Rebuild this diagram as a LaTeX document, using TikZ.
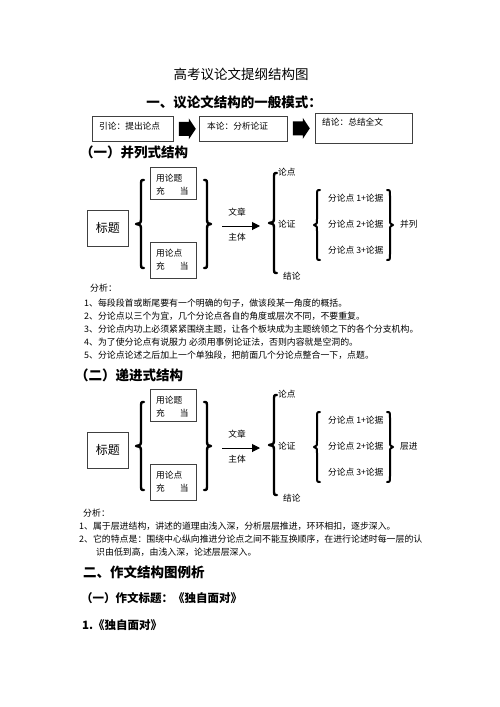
\documentclass[tikz,border=0pt]{standalone}
\usepackage{fontspec}
\setmainfont{Noto Sans CJK SC}
\usetikzlibrary{arrows.meta}
\tikzset{
  box/.style={draw=black!75, line width=0.8pt, inner sep=0pt, anchor=north west},
  txt/.style={inner sep=0pt, font=\fontsize{8.7}{10}\selectfont},
  ana/.style={inner sep=0pt, anchor=west, font=\fontsize{8.9}{10}\selectfont},
  head/.style={inner sep=0pt, font=\bfseries\fontsize{13.5}{15}\selectfont},
  subhead/.style={inner sep=0pt, anchor=west, font=\bfseries\fontsize{11.5}{13}\selectfont},
  brl/.style={line width=2.4pt, line cap=round, line join=round},
  brs/.style={line width=2pt, line cap=round, line join=round},
  mainarrow/.style={line width=1pt, -{Triangle[length=8pt,width=8pt]}},
  blockarrow/.style={fill=black},
}
\newcommand\bracedraw[6]{%
  \draw[#6] ({#1+3*(#4)},{#2}) .. controls ({#1},{#2}) .. ({#1},{#2+6})
    -- ({#1},{(#2+#3)/2-6}) .. controls ({#1},{(#2+#3)/2-1}) .. ({#1-(#5)*(#4)},{(#2+#3)/2})
    .. controls ({#1},{(#2+#3)/2+1}) .. ({#1},{(#2+#3)/2+6})
    -- ({#1},{#3-6}) .. controls ({#1},{#3}) .. ({#1+3*(#4)},{#3});}
\newcommand\blockarrowfrom[2]{%
  \fill[blockarrow] ([xshift=#2,yshift=7pt]#1.east) -- ++(10,0) -- ++(0,-3.5)
    -- ++(7,10.5) -- ++(-7,10.5) -- ++(0,-3.5) -- ++(-10,0) -- cycle;}
\newcommand\drawstructure[3]{%
\begin{scope}[yshift=#2]
  \node[box, minimum width=41pt, minimum height=36pt] (#1title) at (87,210) {};
  \node[txt, font=\fontsize{12}{14}\selectfont] (#1titlet) at (#1title.center) {标题};
  \node[box, minimum width=46pt, minimum height=32pt] (#1ba) at (150,167) {};
  \node[txt, anchor=west] (#1baa) at (156,178) {用论题};
  \node[txt, anchor=west] (#1bab) at (156,191) {充\hspace{15pt}当};
  \node[box, minimum width=46pt, minimum height=36pt] (#1bb) at (150,242) {};
  \node[txt, anchor=west] (#1bba) at (156,253) {用论点};
  \node[txt, anchor=west] (#1bbb) at (156,266) {充\hspace{15pt}当};
  \bracedraw{141}{180}{268}{1}{5}{brl}
  \bracedraw{207}{180}{268}{-1}{4}{brl}
  \coordinate (#1as) at (222,226);
  \coordinate (#1ae) at (260,226);
  \draw[mainarrow] (#1as) -- (#1ae);
  \node[txt] (#1wz) at (237,212) {文章};
  \node[txt] (#1zt) at (237,237) {主体};
  \bracedraw{274}{173}{273}{1}{5}{brl}
  \node[txt, anchor=west] (#1ld) at (278,172) {论点};
  \node[txt, anchor=west] (#1lz) at (278,224) {论证};
  \node[txt, anchor=west] (#1jl) at (283,276) {结论};
  \bracedraw{317}{190}{260}{1}{3}{brs}
  \bracedraw{390}{190}{260}{-1}{3}{brs}
  \node[txt, anchor=west] (#1fa) at (328,198) {分论点 1+论据};
  \node[txt, anchor=west] (#1fb) at (328,224) {分论点 2+论据};
  \node[txt, anchor=west] (#1fc) at (328,250) {分论点 3+论据};
  \node[txt, anchor=west] (#1r) at (400,224) {#3};
\end{scope}}
\begin{document}
\begin{tikzpicture}[x=1pt,y=-1pt]
  \path[use as bounding box, fill=white] (0,0) rectangle (500,707);
  % titles
  \node[inner sep=0pt, font=\fontsize{13.5}{15}\selectfont] (title) at (241,74) {高考议论文提纲结构图};
  \node[head] (h1) at (234,102) {一、议论文结构的一般模式：};
  % general model boxes
  \node[box, minimum width=81pt, minimum height=25pt] (b1) at (92,116) {};
  \node[txt, anchor=west] (b1t) at (99,126) {引论：提出论点};
  \node[box, minimum width=88pt, minimum height=25pt] (b2) at (199,115.5) {};
  \node[txt, anchor=west] (b2t) at (207,126) {本论：分析论证};
  \node[box, minimum width=97pt, minimum height=30pt] (b3) at (315,113) {};
  \node[txt, anchor=west] (b3t) at (322,122) {结论：总结全文};
  \blockarrowfrom{b1}{5pt}
  \blockarrowfrom{b2}{5pt}
  % section (一)
  \node[head, anchor=west] (h2) at (80,152) {（一）并列式结构};
  \drawstructure{p}{0pt}{并列}
  \node[ana] (pa0) at (90,288) {分析：};
  \node[ana] (pa1) at (84,303) {1、每段段首或断尾要有一个明确的句子，做该段某一角度的概括。};
  \node[ana] (pa2) at (84,316) {2、分论点以三个为宜，几个分论点各自的角度或层次不同，不要重复。};
  \node[ana] (pa3) at (84,329) {3、分论点内功上必须紧紧围绕主题，让各个板块成为主题统领之下的各个分支机构。};
  \node[ana] (pa4) at (84,342) {4、为了使分论点有说服力 必须用事例论证法，否则内容就是空洞的。};
  \node[ana] (pa5) at (84,355) {5、分论点论述之后加上一个单独段，把前面几个分论点整合一下，点题。};
  % section (二)
  \node[head, anchor=west] (h3) at (75,375) {（二）递进式结构};
  \drawstructure{q}{-222pt}{层进}
  \node[ana] (qa0) at (83,513) {分析：};
  \node[ana] (qa1) at (79,526) {1、属于层进结构，讲述的道理由浅入深，分析层层推进，环环相扣，逐步深入。};
  \node[ana] (qa2) at (79,539) {2、它的特点是：围绕中心纵向推进分论点之间不能互换顺序，在进行论述时每一层的认};
  \node[ana] (qa3) at (96,552) {识由低到高，由浅入深，论述层层深入。};
  % part two
  \node[head, anchor=west] (h4) at (83,572) {二、作文结构图例析};
  \node[subhead] (h5) at (81,598) {（一）作文标题：《独自面对》};
  \node[subhead] (h6) at (82,625) {1.《独自面对》};
\end{tikzpicture}
\end{document}
